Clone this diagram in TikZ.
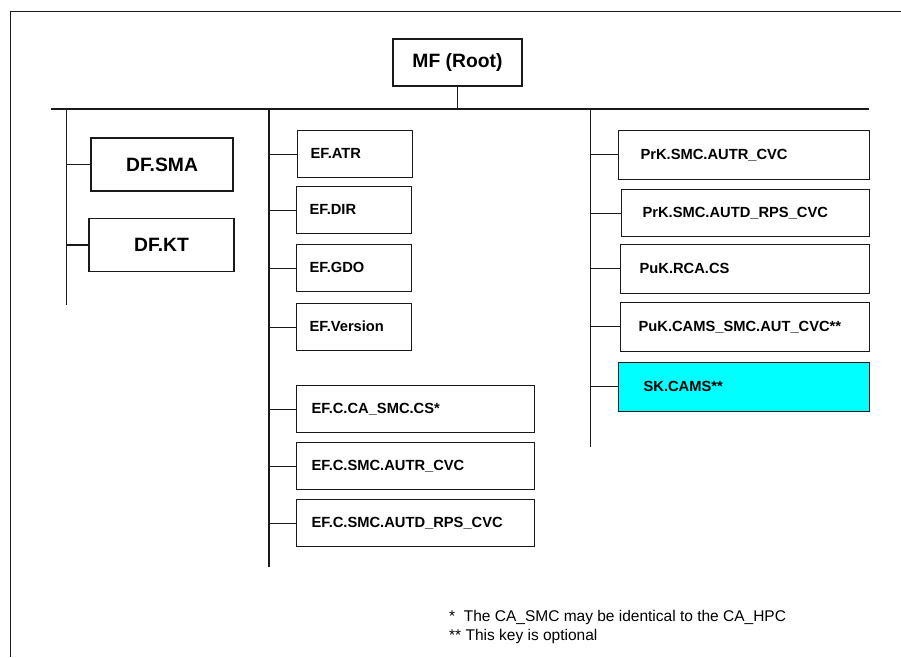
\documentclass[tikz,border=0pt]{standalone}
\usepackage{fontspec}
\setmainfont{Liberation Sans}
\usepackage{xcolor}
\definecolor{keycyan}{HTML}{00FFFF}
\definecolor{inkline}{HTML}{1A1A1A}
\usepackage{tikz}
\usetikzlibrary{positioning}

\newcommand{\keyfont}{\fontsize{14.7}{17}\selectfont\bfseries}
\newcommand{\bigkeyfont}{\fontsize{19.3}{22}\selectfont\bfseries}
\newcommand{\notefont}{\fontsize{15.5}{18.5}\selectfont}

\begin{document}
\begin{tikzpicture}[
  x=1pt,y=-1pt,
  link/.style={draw=inkline,line width=1.2pt},
  keybox/.style={draw=inkline,line width=1.2pt,fill=white,anchor=north west,
                 font=\keyfont,align=left,text height=10.5pt,text depth=1.5pt,
                 inner ysep=0pt,minimum height=47pt},
  efbox/.style={keybox,inner xsep=13pt,text width=89pt},
  efwide/.style={keybox,inner xsep=15pt,text width=208pt},
  pkbox/.style={keybox,inner xsep=22pt,text width=207pt,minimum height=48.5pt},
  dfbox/.style={draw=inkline,line width=1.2pt,fill=white,font=\bigkeyfont,
                inner sep=0pt,minimum height=52.5pt}
]
  \useasboundingbox (0,0) rectangle (901,657);
  % page frame
  \draw[link] (10.5,657) -- (10.5,11.5) -- (901,11.5);

  % root and bus
  \node[dfbox,minimum width=129pt,minimum height=47pt] (root) at (457.5,62.5) {MF (Root)};
  \coordinate (busl) at (50.5,109);
  \coordinate (busr) at (869,109);
  \draw[link] (busl) -- (busr);
  \draw[link] (root.south) -- (root.south |- busl);

  % column stems
  \coordinate (c1top) at (66.7,109);
  \coordinate (c1bot) at (66.7,305);
  \coordinate (c2top) at (269,109);
  \coordinate (c2bot) at (269,567);
  \coordinate (c3top) at (590.7,109);
  \coordinate (c3bot) at (590.7,447);
  \draw[link] (c1top) -- (c1bot);
  \draw[link] (c2top) -- (c2bot);
  \draw[link] (c3top) -- (c3bot);

  % DF column
  \node[dfbox,minimum width=142pt,minimum height=53pt] (dfsma) at (162,164.5) {DF.SMA};
  \node[dfbox,minimum width=145pt] (dfkt) at (161.5,245) {DF.KT};

  % EF column
  \node[efbox] (efatr) at (297,130) {EF.ATR};
  \node[efbox] (efdir) at (296,186) {EF.DIR};
  \node[efbox] (efgdo) at (296,244) {EF.GDO};
  \node[efbox] (efver) at (296,303) {EF.Version};
  \node[efwide] (efcacs) at (296,385) {EF.C.CA\_SMC.CS*};
  \node[efwide] (efautr) at (296,442) {EF.C.SMC.AUTR\_CVC};
  \node[efwide] (efautd) at (296,499) {EF.C.SMC.AUTD\_RPS\_CVC};

  % key column
  \node[pkbox] (prkautr) at (618,130) {PrK.SMC.AUTR\_CVC};
  \node[pkbox,minimum height=47pt,inner xsep=21pt,text width=206pt] (prkautd) at (621,189) {PrK.SMC.AUTD\_RPS\_CVC};
  \node[pkbox,inner xsep=19pt,text width=211pt] (pukrca) at (620,244) {PuK.RCA.CS};
  \node[pkbox,inner xsep=18pt,text width=213pt] (pukcams) at (620,302) {PuK.CAMS\_SMC.AUT\_CVC**};
  \node[pkbox,fill=keycyan,inner xsep=25pt,text width=201pt] (skcams) at (618,362) {SK.CAMS**};

  % branches
  \draw[link] (dfsma.west -| c1top) -- (dfsma.west);
  \draw[link] (dfkt.west -| c1top) -- (dfkt.west);
  \draw[link] (efatr.west -| c2top) -- (efatr.west);
  \draw[link] (efdir.west -| c2top) -- (efdir.west);
  \draw[link] (efgdo.west -| c2top) -- (efgdo.west);
  \draw[link] (efver.west -| c2top) -- (efver.west);
  \draw[link] (efcacs.west -| c2top) -- (efcacs.west);
  \draw[link] (efautr.west -| c2top) -- (efautr.west);
  \draw[link] (efautd.west -| c2top) -- (efautd.west);
  \draw[link] (prkautr.west -| c3top) -- (prkautr.west);
  \draw[link] (prkautd.west -| c3top) -- (prkautd.west);
  \draw[link] (pukrca.west -| c3top) -- (pukrca.west);
  \draw[link] (pukcams.west -| c3top) -- (pukcams.west);
  \draw[link] (skcams.west -| c3top) -- (skcams.west);

  % footnotes
  \node[anchor=base west,inner sep=0pt,align=left,font=\notefont] (notes) at (449,640)
    {*\ \ The CA\_SMC may be identical to the CA\_HPC\\** This key is optional};
\end{tikzpicture}
\end{document}
